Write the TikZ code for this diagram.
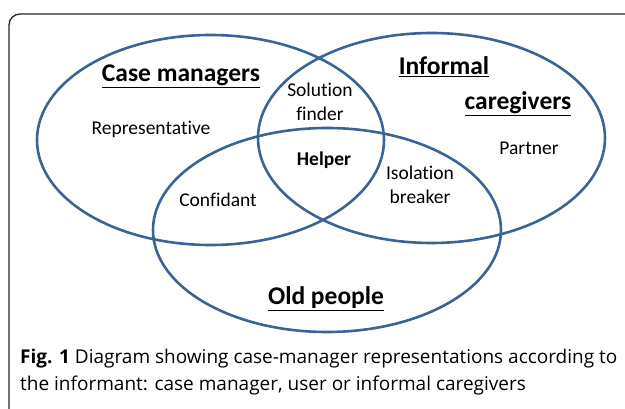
\documentclass[tikz,border=0pt]{standalone}
\usepackage{fontspec}
\setmainfont[Ligatures=NoCommon]{Carlito}
\newfontfamily\capfont{Open Sans}
\definecolor{vennblue}{HTML}{3A6496}
\begin{document}
\begin{tikzpicture}[x=1pt,y=-1pt,
  venn/.style={draw=vennblue,line width=2.6pt},
  head/.style={font=\fontsize{25.5}{30}\selectfont\bfseries,inner sep=0pt},
  lbl/.style={font=\fontsize{19.5}{23.5}\selectfont,align=center,inner sep=0pt},
  captext/.style={font=\capfont\fontsize{19}{27}\selectfont,anchor=base west,inner sep=0pt}]
\useasboundingbox (0,0) rectangle (625,409);
\begin{scope}
\clip (0,0) rectangle (625,409);
\draw[line width=1.3pt,draw=black!85,rounded corners=11pt] (9,14) rectangle (660,440);
\end{scope}
\draw[venn] (210.5,140) ellipse [x radius=173.5,y radius=105];
\draw[venn] (431.5,138) ellipse [x radius=173.5,y radius=105];
\draw[venn] (327,230) ellipse [x radius=174,y radius=102];
\node[head] (cm) at (181,76) {\underline{Case managers}};
\node[head] (inf) at (444,67) {\underline{Informal}};
\node[head] (cg) at (518,104) {\underline{caregivers}};
\node[head] (op) at (326,299) {\underline{Old people}};
\node[lbl] (rep) at (151,129) {Representative};
\node[lbl] (sol) at (320,102) {Solution\\finder};
\node[lbl,font=\fontsize{19.5}{23.5}\selectfont\bfseries] (help) at (324,160) {Helper};
\node[lbl] (conf) at (218,200) {Confidant};
\node[lbl] (iso) at (420,185) {Isolation\\breaker};
\node[lbl] (part) at (529,148) {Partner};
\node[captext] (cap1) at (20,364) {\textbf{Fig. 1} Diagram showing case-manager representations according to};
\node[captext] (cap2) at (20,391) {the informant: case manager, user or informal caregivers};
\end{tikzpicture}
\end{document}
